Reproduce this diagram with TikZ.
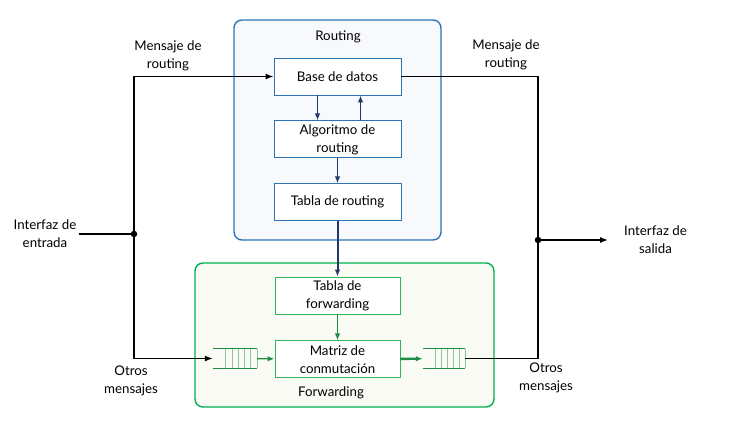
\documentclass[tikz,border=0pt]{standalone}
\usepackage{fontspec}
\setmainfont{Lato}
\usetikzlibrary{positioning, arrows.meta}
\definecolor{rtBlue}{HTML}{2E75B6}
\definecolor{rtFill}{HTML}{F7F9FC}
\definecolor{rtNavy}{HTML}{203864}
\definecolor{fwGreen}{HTML}{00B050}
\definecolor{fwBox}{HTML}{33B35A}
\definecolor{fwFill}{HTML}{FAFBF5}
\definecolor{fwDark}{HTML}{1E8C45}
\definecolor{fwLight}{HTML}{8CC79E}

\begin{document}
\begin{tikzpicture}[x=1pt, y=-1pt, node distance=25pt,
    font=\fontsize{13.3}{18}\selectfont,
    area/.style={draw, rounded corners=8pt, line width=1.4pt},
    blk/.style={draw, line width=0.9pt, fill=white, minimum width=127pt,
      minimum height=37pt, align=center, inner sep=1pt},
    lbl/.style={align=center, inner sep=2pt},
    queue/.style={minimum width=44pt, minimum height=19pt, inner sep=0pt},
    dot/.style={circle, fill, inner sep=0pt, minimum size=6.5pt},
    arr/.style={-{Latex[length=8pt,width=6pt]}, line width=1.3pt},
    narr/.style={-{Latex[length=7pt,width=5.5pt]}, line width=1.5pt, rtNavy},
    garr/.style={-{Latex[length=7pt,width=5.5pt]}, line width=1.4pt, fwDark}]
  \useasboundingbox (0,0) rectangle (729,426);
  % zonas
  \draw[area, draw=rtBlue, fill=rtFill] (234,20) rectangle (441,240);
  \draw[area, draw=fwGreen, fill=fwFill] (195,263) rectangle (494,407);
  \node (rt) at (338,37) {Routing};
  \node (fw) at (331,393) {Forwarding};
  % routing
  \node[blk, draw=rtBlue] (base) at (337.5,76.5) {Base de datos};
  \node[blk, draw=rtBlue, below=of base] (alg) {Algoritmo de\\routing};
  \node[blk, draw=rtBlue, below=of alg] (tabr) {Tabla de routing};
  % forwarding
  \node[blk, draw=fwBox, minimum width=125pt] (tabf) at (337.5,295.5) {Tabla de\\forwarding};
  \node[blk, draw=fwBox, minimum width=125pt, below=26pt of tabf] (mat) {Matriz de\\conmutación};
  \node[queue] (qin) at (235,358.5) {};
  \node[queue, minimum width=42pt] (qout) at (444,358.5) {};
  \draw[fwDark, line width=1.2pt] (qin.north west) -- (qin.north east) (qin.south west) -- (qin.south east);
  \draw[fwDark, line width=1.2pt] (qout.north west) -- (qout.north east) (qout.south west) -- (qout.south east);
  \foreach \i in {0,...,5} {
    \draw[fwLight, line width=1pt] ([xshift=-\i*6.3pt]qin.north east) -- ([xshift=-\i*6.3pt]qin.south east);
    \draw[fwLight, line width=1pt] ([xshift=-\i*6pt]qout.north east) -- ([xshift=-\i*6pt]qout.south east);
  }
  \draw[narr] ([xshift=-20pt]base.south) -- ([xshift=-20pt]alg.north);
  \draw[narr] ([xshift=23pt]alg.north) -- ([xshift=23pt]base.south);
  \draw[narr] (alg) -- (tabr);
  \draw[narr, line width=2pt] (tabr) -- (tabf);
  \draw[garr] (tabf) -- (mat);
  \draw[garr] (qin) -- (mat);
  \draw[garr, line width=2.4pt] (mat) -- (qout);
  % entrada
  \node[lbl] (inlbl) at (45,234) {Interfaz de\\entrada};
  \node[dot] (jin) at (134,234) {};
  \draw[line width=1.3pt] (inlbl.east) -- (jin);
  \draw[arr] (jin) |- (base.west);
  \draw[arr] (jin) |- (qin.west);
  \node[lbl] (msgin) at (168,55.5) {Mensaje de\\routing};
  \node[lbl] (otrosin) at (131,381) {Otros\\mensajes};
  % salida
  \node[dot] (jout) at (538,240) {};
  \draw[line width=1.3pt] (base.east) -| (jout);
  \draw[line width=1.3pt] (qout.east) -| (jout);
  \node[lbl, anchor=west] (outlbl) at (622,240) {Interfaz de\\salida};
  \draw[arr, shorten >=14pt] (jout) -- (outlbl.west);
  \node[lbl] (msgout) at (506,55) {Mensaje de\\routing};
  \node[lbl] (otrosout) at (546,378) {Otros\\mensajes};
\end{tikzpicture}
\end{document}
